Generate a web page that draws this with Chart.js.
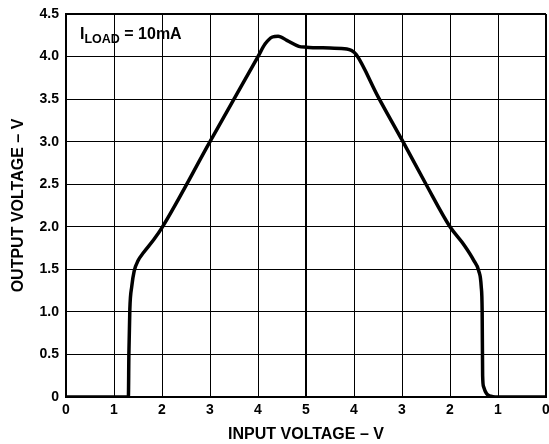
<!DOCTYPE html>
<html>
<head>
<meta charset="utf-8">
<script src="https://cdn.jsdelivr.net/npm/chart.js@4"></script>
<style>
    html, body { margin: 0; padding: 0; background: #fff; }
    #wrap { width: 549px; height: 444px; }
</style>
</head>
<body>
<div id="wrap"><canvas id="vChart"></canvas></div>
<script>
// Chart Data (input sweeps 0 -> 5 -> 0, plotted on a 0..10 axis)
const inputPos = [0, 1.3, 1.31, 1.33, 1.37, 1.42, 1.5, 1.62, 1.83, 2.0, 3.0, 4.0, 4.15, 4.3, 4.42, 4.6, 4.85, 5.0, 5.5, 5.85, 5.95, 6.05, 6.5, 7.0, 7.5, 8.0, 8.3, 8.5, 8.6, 8.65, 8.67, 8.68, 8.7, 8.76, 8.85, 8.94, 10];
const outputVolts = [0, 0, 0.5, 1.03, 1.3, 1.48, 1.6, 1.7, 1.85, 1.99, 3.0, 4.0, 4.15, 4.23, 4.24, 4.19, 4.12, 4.11, 4.1, 4.09, 4.07, 4.02, 3.53, 3.02, 2.5, 2.0, 1.78, 1.6, 1.48, 1.3, 1.0, 0.25, 0.12, 0.04, 0.01, 0, 0];
const xTickLabels = ['0', '1', '2', '3', '4', '5', '4', '3', '2', '1', '0'];
const yTickLabels = ['0', '0.5', '1.0', '1.5', '2.0', '2.5', '3.0', '3.5', '4.0', '4.5'];

const FONT = 'Liberation Sans, Arial, sans-serif';

// I LOAD = 10mA label, drawn with a subscript
const loadLabel = {
    id: 'loadLabel',
    afterDraw(chart) {
        const ctx = chart.ctx;
        ctx.save();
        ctx.fillStyle = '#000';
        ctx.textBaseline = 'alphabetic';
        let x = 80;
        ctx.font = 'bold 16px ' + FONT;
        ctx.fillText('I', x, 39);
        x += ctx.measureText('I').width;
        ctx.font = 'bold 12.5px ' + FONT;
        ctx.fillText('LOAD', x, 43);
        x += ctx.measureText('LOAD').width;
        ctx.font = 'bold 16px ' + FONT;
        ctx.fillText(' = 10mA', x, 39);
        ctx.restore();
    }
};

document.addEventListener('DOMContentLoaded', function() {
    const points = inputPos.map((x, i) => ({ x: x, y: outputVolts[i] }));
    new Chart(document.getElementById('vChart'), {
        type: 'scatter',
        data: {
            datasets: [{
                data: points,
                showLine: true,
                borderColor: '#000',
                borderWidth: 3.5,
                pointRadius: 0,
                cubicInterpolationMode: 'monotone',
                fill: false
            }]
        },
        plugins: [loadLabel],
        options: {
            responsive: true,
            maintainAspectRatio: false,
            animation: false,
            layout: { padding: { top: 14, right: 3, left: 0, bottom: 0 } },
            plugins: { legend: { display: false }, tooltip: { enabled: false } },
            scales: {
                x: {
                    type: 'linear',
                    min: 0, max: 10,
                    afterFit: s => { s.height = 47; s.paddingRight = 0; s.paddingLeft = 0; },
                    border: { display: true, color: '#000', width: 2 },
                    grid: {
                        color: '#000',
                        drawTicks: false,
                        lineWidth: c => (c.tick && (c.tick.value === 5 || c.tick.value === 10)) ? 2 : 1
                    },
                    ticks: {
                        stepSize: 1,
                        padding: 5,
                        color: '#000',
                        font: { family: FONT, size: 14, weight: 'bold' },
                        callback: v => xTickLabels[v]
                    },
                    title: {
                        display: true,
                        text: 'INPUT VOLTAGE – V',
                        color: '#000',
                        padding: { top: 0, bottom: 0 },
                        font: { family: FONT, size: 16, weight: 'bold' }
                    }
                },
                y: {
                    min: 0, max: 4.5,
                    afterFit: s => { s.width = 66; s.paddingTop = 0; },
                    border: { display: true, color: '#000', width: 2 },
                    grid: {
                        color: '#000',
                        drawTicks: false,
                        lineWidth: c => (c.tick && c.tick.value === 4.5) ? 2 : 1
                    },
                    ticks: {
                        stepSize: 0.5,
                        padding: 7,
                        color: '#000',
                        font: { family: FONT, size: 14, weight: 'bold' },
                        callback: (v, i) => yTickLabels[i]
                    },
                    title: {
                        display: true,
                        text: 'OUTPUT VOLTAGE – V',
                        color: '#000',
                        padding: { top: 9, bottom: 3 },
                        font: { family: FONT, size: 16, weight: 'bold' }
                    }
                }
            }
        }
    });
});
</script>
</body>
</html>
